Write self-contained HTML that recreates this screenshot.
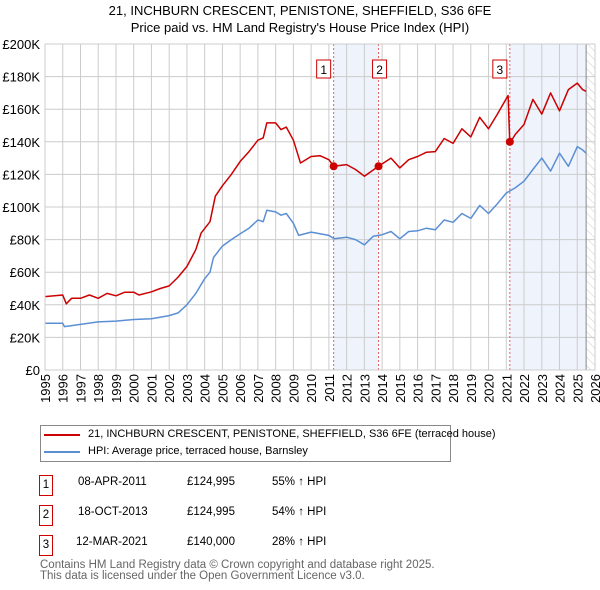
<!DOCTYPE html>
<html><head><meta charset="utf-8"><style>
body{margin:0;background:#fff;font-family:"Liberation Sans","DejaVu Sans",sans-serif;}
#wrap{position:relative;width:600px;height:590px;overflow:hidden;}
.t{position:absolute;left:0;width:600px;text-align:center;font-size:13px;color:#000;}
.leg{position:absolute;left:40px;top:425px;width:409px;height:35px;border:1px solid #888;font-size:11px;white-space:nowrap;}
.row{position:absolute;font-size:11.5px;color:#000;}
.box{position:absolute;width:12px;height:19px;border:1px solid #c00;text-align:center;line-height:19px;font-size:11.5px;}
.foot{position:absolute;left:40px;font-size:11.5px;color:#666;}
</style></head><body>
<div id="wrap">
<div class="t" style="top:3px">21, INCHBURN CRESCENT, PENISTONE, SHEFFIELD, S36 6FE</div>
<div class="t" style="top:20px">Price paid vs. HM Land Registry's House Price Index (HPI)</div>
<svg id="chart" width="600" height="420" style="position:absolute;left:0;top:0"></svg>
<div class="leg">
 <div style="position:absolute;left:3px;top:8px;width:36px;height:2px;background:#c00"></div>
 <div style="position:absolute;left:47px;top:2px">21, INCHBURN CRESCENT, PENISTONE, SHEFFIELD, S36 6FE (terraced house)</div>
 <div style="position:absolute;left:3px;top:25px;width:36px;height:2px;background:#5b8fd4"></div>
 <div style="position:absolute;left:47px;top:19px">HPI: Average price, terraced house, Barnsley</div>
</div>
<div class="box" style="left:39px;top:475px">1</div>
<div class="row" style="left:78px;top:476px">08-APR-2011</div>
<div class="row" style="left:187px;top:476px">£124,995</div>
<div class="row" style="left:272px;top:476px">55% ↑ HPI</div>
<div class="box" style="left:39px;top:505px">2</div>
<div class="row" style="left:78px;top:506px">18-OCT-2013</div>
<div class="row" style="left:187px;top:506px">£124,995</div>
<div class="row" style="left:272px;top:506px">54% ↑ HPI</div>
<div class="box" style="left:39px;top:535px">3</div>
<div class="row" style="left:76px;top:536px">12-MAR-2021</div>
<div class="row" style="left:187px;top:536px">£140,000</div>
<div class="row" style="left:272px;top:536px">28% ↑ HPI</div>
<div class="foot" style="top:559px">Contains HM Land Registry data © Crown copyright and database right 2025.</div>
<div class="foot" style="top:570px">This data is licensed under the Open Government Licence v3.0.</div>
</div>
<script>
const hpiYears=[1995,1996,1996.1,1997,1998,1999,2000,2001,2002,2002.5,2003,2003.5,2004,2004.3,2004.5,2005,2005.5,2006,2006.5,2007,2007.3,2007.5,2008,2008.3,2008.6,2009,2009.3,2010,2011,2011.3,2012,2012.5,2013,2013.5,2014,2014.5,2015,2015.5,2016,2016.5,2017,2017.5,2018,2018.5,2019,2019.5,2020,2020.5,2021,2021.5,2022,2022.5,2023,2023.5,2024,2024.5,2025,2025.3,2025.5];
const hpiValues=[28.7,28.7,26.6,28,29.5,30,31,31.5,33.4,35,40,47,56,60,69,76,80,83.6,87,92,91,98,97,95,96,90,82.6,84.6,82.6,80.5,81.5,80,76.8,82,83,85,80.5,85,85.4,87,86,92,90.6,96,93,101,96,102,108.6,111.7,115.8,123,130,122,133,125,137,135,133];
const priceYears=[1995,1996,1996.2,1996.5,1997,1997.5,1998,1998.5,1999,1999.5,2000,2000.3,2001,2001.5,2002,2002.5,2003,2003.5,2003.8,2004.3,2004.6,2005,2005.5,2006,2006.5,2007,2007.3,2007.5,2008,2008.3,2008.6,2009,2009.4,2010,2010.5,2011,2011.27,2012,2012.5,2013,2013.8,2014.5,2015,2015.5,2016,2016.5,2017,2017.5,2018,2018.5,2019,2019.5,2020,2020.5,2021.1,2021.2,2021.5,2022,2022.5,2023,2023.5,2024,2024.5,2025,2025.3,2025.5];
const priceValues=[45,46,40.6,44,44,46,44,47,45.5,47.7,47.7,46,48,50,51.6,57,63.5,73.8,84,91,106.6,113,120,128,134,141,142.4,151.6,151.6,147.5,149,141,127,131,131.5,129,125,126,123,118.9,125,130,124,129,131,133.6,134,142,139,148,143,155,148,157,168.4,139,144.5,150.6,166,157,170,159,172,176,172,171];
const saleYears=[2011.27,2013.8,2021.2];
const saleValues=[124.995,124.995,140];
const saleLabels=["1","2","3"];
const yTicks=[0,20,40,60,80,100,120,140,160,180,200];
const yTickLabels=["£0","£20K","£40K","£60K","£80K","£100K","£120K","£140K","£160K","£180K","£200K"];
const xTicks=[1995,1996,1997,1998,1999,2000,2001,2002,2003,2004,2005,2006,2007,2008,2009,2010,2011,2012,2013,2014,2015,2016,2017,2018,2019,2020,2021,2022,2023,2024,2025,2026];
const dataEnd=2025.5;

const X0=45,X1=595,Y0=370,Y1=44;
const xs=y=>X0+(y-1995)/(2026-1995)*(X1-X0);
const ys=v=>Y0-v/200*(Y0-Y1);
const svg=document.getElementById('chart');
const NS='http://www.w3.org/2000/svg';
function mk(t,a){const e=document.createElementNS(NS,t);for(const k in a)e.setAttribute(k,a[k]);svg.appendChild(e);return e;}
for(const [a,b] of [[saleYears[0],saleYears[1]],[saleYears[2],dataEnd]]){
 const r=mk('rect',{x:xs(a),y:Y1,width:xs(b)-xs(a),height:Y0-Y1,fill:'#eef3fc'});
 
 
}
const defs=mk('defs',{});
defs.innerHTML='<pattern id="h" width="6" height="6" patternUnits="userSpaceOnUse" patternTransform="rotate(-45)"><line x1="0" y1="0" x2="0" y2="6" stroke="#ccc" stroke-width="1"/></pattern>';
const hr=mk('rect',{x:xs(dataEnd),y:Y1,width:X1-xs(dataEnd),height:Y0-Y1,fill:'url(#h)'});


yTicks.forEach((v,i)=>{
 const l=mk('line',{x1:X0,x2:X1,y1:ys(v),y2:ys(v),stroke:'#ccc','stroke-width':1});
 
 
 const t=mk('text',{x:40,y:ys(v)+5,'text-anchor':'end','font-size':13,fill:'#000'});
 t.textContent=yTickLabels[i];
 
 
});
xTicks.forEach(y=>{
 const l=mk('line',{x1:xs(y),x2:xs(y),y1:Y1,y2:Y0,stroke:'#ccc','stroke-width':1});
 
 
 const t=mk('text',{x:0,y:0,'text-anchor':'end','font-size':13,fill:'#000',transform:`translate(${xs(y)+5},374) rotate(-90)`});
 t.textContent=String(y);
 
 
});
const bd=mk('line',{x1:xs(dataEnd),x2:xs(dataEnd),y1:Y1,y2:Y0,stroke:'#888','stroke-width':1});


saleYears.forEach(y=>{
 const l=mk('line',{x1:xs(y),x2:xs(y),y1:Y1,y2:Y0,stroke:'#e06060','stroke-width':1,'stroke-dasharray':'2,2'});
 
 
});
function path(xa,va,col,name){
 const d=xa.map((y,i)=>(i?'L':'M')+xs(y).toFixed(1)+','+ys(va[i]).toFixed(1)).join('');
 const p=mk('path',{d,fill:'none',stroke:col,'stroke-width':1.5,'stroke-linejoin':'round'});
 
 
}
path(hpiYears,hpiValues,'#5b8fd4','hpi-line');
path(priceYears,priceValues,'#cc0000','property-price-line');
saleYears.forEach((y,i)=>{
 const c=mk('circle',{cx:xs(y),cy:ys(saleValues[i]),r:4,fill:'#cc0000'});
 
 
 const bx=xs(y)-[9,-2,9][i];
 const r=mk('rect',{x:bx-8,y:60,width:14,height:18,fill:'#fff',stroke:'#c00'});
 
 
 const t=mk('text',{x:bx-1,y:74,'text-anchor':'middle','font-size':12,fill:'#000'});
 t.textContent=saleLabels[i];
 
 
});
const fr=mk('rect',{x:X0,y:Y1,width:X1-X0,height:Y0-Y1,fill:'none',stroke:'#ccc'});


</script>
</body></html>
